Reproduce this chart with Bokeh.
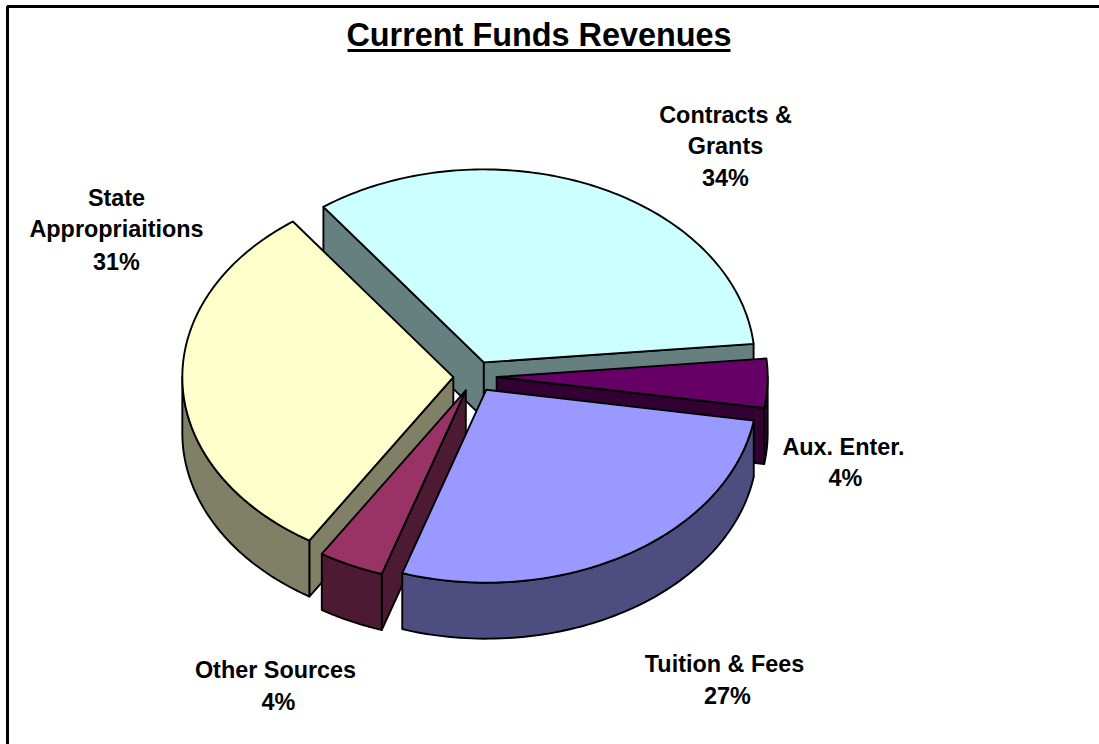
import numpy as np
from bokeh.plotting import figure
from bokeh.core.properties import value
from bokeh.embed import file_html
from bokeh.resources import INLINE

# Data
categories = ["Contracts & Grants", "Aux. Enter.", "Tuition & Fees", "Other Sources", "State Appropriaitions"]
shares = [33.55, 4.1, 27.45, 3.9, 31.0]
top_colors = ["#CCFFFF", "#660066", "#9999FF", "#993366", "#FFFFCC"]
wall_colors = ["#668080", "#330033", "#4D4D80", "#4D1A33", "#808066"]
label_lines = [["Contracts &", "Grants"], ["Aux. Enter."], ["Tuition & Fees"], ["Other Sources"], ["State", "Appropriaitions"]]
title_text = "Current Funds Revenues"

# Layout (page pixels)
W, H = 1099, 744
CX, CY, RX, RY, DEPTH, EXPLODE, START = 474.5, 376.0, 271.0, 193.0, 56.0, 0.08, -36.3
paint_order = [0, 1, 4, 3, 2]
label_anchor = [(725, 114), (843, 446), (724, 663), (275, 669), (116, 197)]
pct_anchor = [(725, 177), (845, 477), (727, 695), (278, 701), (116, 261)]
LINE = 1.9

p = figure(width=W, height=H, x_range=(0, W), y_range=(H, 0),
           output_backend="svg", toolbar_location=None, min_border=0,
           outline_line_color=None, background_fill_color="white")
p.axis.visible = False
p.grid.visible = False


def pt(a, ox, oy):
    r = np.radians(a)
    return ox + RX * np.sin(r), oy - RY * np.cos(r)


def poly(xs, ys, color):
    p.patch(list(xs), list(ys), fill_color=color, line_color="black",
            line_width=LINE, line_join="round")


edges = START + np.concatenate([[0], np.cumsum(shares)]) * 3.6
for i in paint_order:
    a0, a1 = edges[i], edges[i + 1]
    mid = np.radians((a0 + a1) / 2)
    ox = CX + EXPLODE * RX * np.sin(mid)
    oy = CY - EXPLODE * RY * np.cos(mid)
    # radial walls that face the viewer
    for a, faces in ((a0, pt(a0, ox, oy)[0] < ox), (a1, pt(a1, ox, oy)[0] > ox)):
        if faces:
            x, y = pt(a, ox, oy)
            poly([ox, x, x, ox], [oy, y, y + DEPTH, oy + DEPTH], wall_colors[i])
    # outer rim: lower half of the ellipse only
    lo, hi = max(a0, 90), min(a1, 270)
    if hi > lo:
        t = np.linspace(lo, hi, 80)
        x, y = pt(t, ox, oy)
        poly(np.r_[x, x[::-1]], np.r_[y, y[::-1] + DEPTH], wall_colors[i])
    # top face
    t = np.linspace(a0, a1, 120)
    x, y = pt(t, ox, oy)
    poly(np.r_[ox, x], np.r_[oy, y], top_colors[i])

font = value("Liberation Sans")
xs, ys, txt = [], [], []
for i, lines in enumerate(label_lines):
    for k, s in enumerate(lines):
        xs.append(label_anchor[i][0])
        ys.append(label_anchor[i][1] + k * 31)
        txt.append(s)
    xs.append(pct_anchor[i][0])
    ys.append(pct_anchor[i][1])
    txt.append(f"{round(shares[i])}%")
p.text(xs, ys, text=txt, text_font=font, text_font_style="bold", text_font_size="23.4px",
       text_align="center", text_baseline="middle", text_color="black")

p.text([538.5], [34], text=[title_text], text_font=font, text_font_style="bold",
       text_font_size="32.4px", text_align="center", text_baseline="middle", text_color="black")
p.line([347, 730], [50, 50], line_color="black", line_width=3)

# chart frame (left and top edges; the rest runs off the picture)
p.line([7, 7, W], [H, 6, 6], line_color="black", line_width=3)

open("out.html", "w").write(file_html(p, INLINE))
